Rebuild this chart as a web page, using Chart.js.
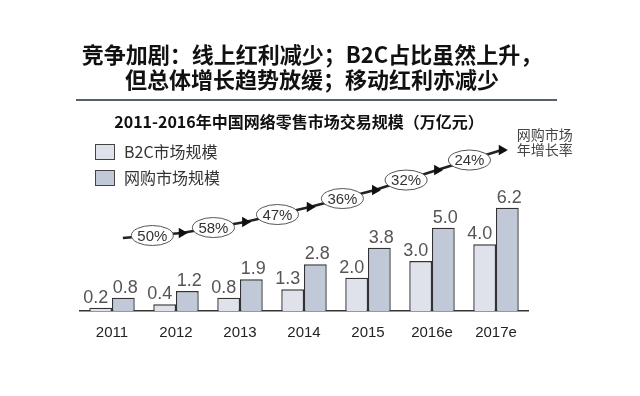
<!DOCTYPE html>
<html>
<head>
<meta charset="utf-8">
<script src="https://cdn.jsdelivr.net/npm/chart.js@4/dist/chart.umd.min.js"></script>
<style>
    html, body { margin: 0; padding: 0; background: #fff; }
    #wrap { position: relative; width: 640px; height: 396px; }
    #headline {
        position: absolute; left: 0; top: 41px; width: 624px;
        text-align: center; color: #111;
        font: bold 22px "Noto Sans CJK SC", sans-serif; line-height: 25px;
    }
    #rule { position: absolute; left: 76px; top: 99px; width: 481px; height: 2px; background: #55606b; }
    canvas { position: absolute; left: 0; top: 0; }
</style>
</head>
<body>
<div id="wrap">
    <canvas id="chart" width="640" height="396"></canvas>
    <canvas id="track" width="640" height="396"></canvas>
    <div id="headline">竞争加剧：线上红利减少；B2C占比虽然上升，<br>但总体增长趋势放缓；移动红利亦减少</div>
    <div id="rule"></div>
</div>
<script>
const years = ["2011", "2012", "2013", "2014", "2015", "2016e", "2017e"];
const b2cSize = [0.2, 0.4, 0.8, 1.3, 2.0, 3.0, 4.0];
const onlineSize = [0.8, 1.2, 1.9, 2.8, 3.8, 5.0, 6.2];
const growthRate = ["50%", "58%", "47%", "36%", "32%", "24%"];
// rising arrow track behind the growth labels, in year-index / 万亿元 units
const trackX = [0.17, 1.09, 2.08, 3.09, 4.11, 5.08, 6.09];
const trackY = [4.38, 4.68, 5.34, 6.24, 7.26, 8.46, 9.66];

const FONT = "Liberation Sans, Arial, sans-serif";
const CJK = "Noto Sans CJK SC, sans-serif";

const b2cColor = "#dfe2ea";
const onlineColor = "#c1c9d9";

// both canvases share the same plot box
const plotPadding = { left: 80, right: 112, top: 144.4, bottom: 45 };

// Titles, legend and value labels for the bar chart
const barDecor = {
    id: "barDecor",
    afterDatasetsDraw(chart) {
        const ctx = chart.ctx;
        ctx.save();

        ctx.fillStyle = "#555";
        ctx.font = "18px " + FONT;
        ctx.textAlign = "center";
        ctx.textBaseline = "alphabetic";
        const shift = [-5, 2];
        [0, 1].forEach((di) => {
            const meta = chart.getDatasetMeta(di);
            const values = chart.data.datasets[di].data;
            meta.data.forEach((bar, i) => {
                ctx.fillText(values[i].toFixed(1), bar.x + shift[di], bar.y - 5);
            });
        });

        // chart title
        ctx.textBaseline = "middle";
        ctx.font = "bold 16px " + CJK;
        ctx.fillStyle = "#111";
        ctx.fillText("2011-2016年中国网络零售市场交易规模（万亿元）", 299, 122);

        // legend
        const items = [
            { text: "B2C市场规模", color: b2cColor },
            { text: "网购市场规模", color: onlineColor },
        ];
        ctx.textAlign = "left";
        ctx.font = "16px " + CJK;
        items.forEach((it, i) => {
            const y = 144 + i * 26;
            ctx.fillStyle = it.color;
            ctx.fillRect(95, y, 20, 16);
            ctx.lineWidth = 1;
            ctx.strokeStyle = "#444";
            ctx.strokeRect(95.5, y + 0.5, 19, 15);
            ctx.fillStyle = "#333";
            ctx.fillText(it.text, 124, y + 8);
        });

        ctx.restore();
    },
};

// Growth-rate ellipses sitting on the track
const trackDecor = {
    id: "trackDecor",
    afterDatasetsDraw(chart) {
        const ctx = chart.ctx;
        const line = chart.getDatasetMeta(0).data;
        ctx.save();
        ctx.font = "15px " + FONT;
        ctx.textAlign = "center";
        ctx.textBaseline = "middle";
        growthRate.forEach((label, i) => {
            const cx = (line[i].x + line[i + 1].x) / 2;
            const cy = (line[i].y + line[i + 1].y) / 2;
            ctx.beginPath();
            ctx.ellipse(cx, cy, 21, 10, 0, 0, Math.PI * 2);
            ctx.fillStyle = "#fff";
            ctx.fill();
            ctx.lineWidth = 1;
            ctx.strokeStyle = "#555";
            ctx.stroke();
            ctx.fillStyle = "#333";
            ctx.fillText(label, cx, cy + 1);
        });

        const end = line[line.length - 1];
        ctx.font = "14px " + CJK;
        ctx.fillStyle = "#444";
        ctx.textAlign = "left";
        ctx.fillText("网购市场", end.x + 15, end.y - 15);
        ctx.fillText("年增长率", end.x + 15, end.y);
        ctx.restore();
    },
};

new Chart(document.getElementById("chart"), {
    type: "bar",
    data: {
        labels: years,
        datasets: [
            { label: "B2C市场规模", data: b2cSize, backgroundColor: b2cColor },
            { label: "网购市场规模", data: onlineSize, backgroundColor: onlineColor },
        ],
    },
    options: {
        responsive: false,
        animation: false,
        layout: { padding: plotPadding },
        datasets: {
            bar: { categoryPercentage: 0.71, barPercentage: 1, borderColor: "#333", borderWidth: 1.4 },
        },
        plugins: {
            legend: { display: false },
            tooltip: { enabled: false },
        },
        scales: {
            x: {
                grid: { display: false, drawTicks: false },
                border: { color: "#333", width: 1.5 },
                ticks: { color: "#222", font: { family: FONT, size: 15 }, padding: 13 },
                afterFit: (s) => { s.height = 40; },
            },
            y: { display: false, min: 0, max: 10 },
        },
    },
    plugins: [barDecor],
});

new Chart(document.getElementById("track"), {
    type: "line",
    data: {
        datasets: [
            {
                label: "网购市场年增长率",
                data: trackX.map((x, i) => ({ x: x, y: trackY[i] })),
                borderColor: "#222",
                borderWidth: 2.5,
                pointStyle: "triangle",
                pointRotation: 90,
                pointRadius: trackX.map((_, i) => (i === 0 ? 0 : 3.5)),
                pointBackgroundColor: "#111",
                pointBorderColor: "#111",
                tension: 0,
                clip: false,
            },
        ],
    },
    options: {
        responsive: false,
        animation: false,
        layout: { padding: { left: 80, right: 112, top: 144.4, bottom: 85 } },
        plugins: {
            legend: { display: false },
            tooltip: { enabled: false },
        },
        scales: {
            x: { type: "linear", display: false, min: -0.5, max: 6.5 },
            y: { display: false, min: 0, max: 10 },
        },
    },
    plugins: [trackDecor],
});
</script>
</body>
</html>
